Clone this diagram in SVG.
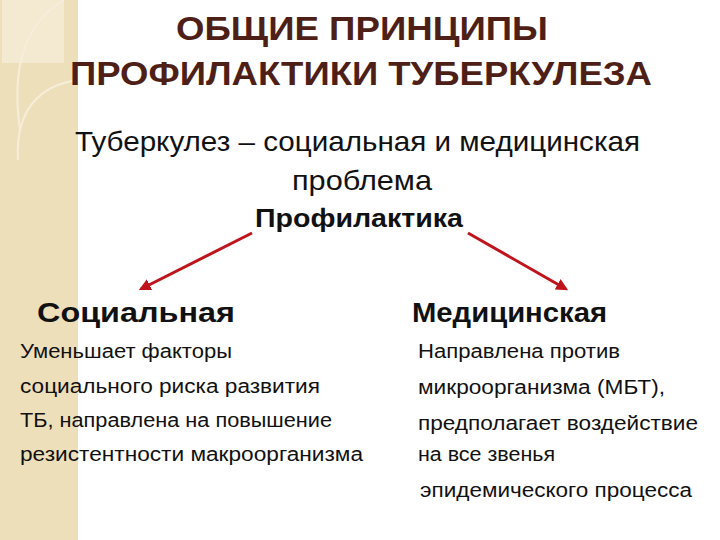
<svg xmlns="http://www.w3.org/2000/svg" width="720" height="540" viewBox="0 0 720 540">
<defs>
<style>
.t{font-family:"Liberation Sans","Open Sans",sans-serif;font-weight:bold;fill:#4e1f17;font-size:34px}
.s{font-family:"Liberation Sans","Open Sans",sans-serif;fill:#111;font-size:28px}
.b{font-family:"Liberation Sans","Open Sans",sans-serif;font-weight:bold;fill:#111}
.p{font-family:"Liberation Sans","Open Sans",sans-serif;fill:#111;font-size:20px}
.arr{stroke:#c0141c;stroke-width:3;fill:none;marker-end:url(#ah)}
</style>
<marker id="ah" viewBox="0 0 10 10" refX="8" refY="5" markerWidth="4" markerHeight="4" orient="auto" markerUnits="strokeWidth">
<path d="M0,0 L10,5 L0,10 z" fill="#c0141c"/>
</marker>
</defs>
<rect width="720" height="540" fill="#fff"/>
<g id="band">
<rect x="0" y="0" width="78" height="540" fill="#eedfbb"/>
<rect x="2" y="0" width="62" height="63" fill="#f4ead2"/>
<path d="M64,0 C30,20 10,60 20,130" stroke="#f6eedb" stroke-width="2" fill="none"/>
<path d="M78,80 C40,85 15,110 18,160" stroke="#f6eedb" stroke-width="2" fill="none"/>
</g>
<g id="title">
<text class="t" x="362" y="40" text-anchor="middle" textLength="372" lengthAdjust="spacingAndGlyphs">ОБЩИЕ ПРИНЦИПЫ</text>
<text class="t" x="361" y="85" text-anchor="middle" textLength="582" lengthAdjust="spacingAndGlyphs">ПРОФИЛАКТИКИ ТУБЕРКУЛЕЗА</text>
</g>
<g id="subtitle">
<text class="s" x="75" y="151" textLength="565" lengthAdjust="spacingAndGlyphs">Туберкулез – социальная и медицинская</text>
<text class="s" x="362" y="190" text-anchor="middle" textLength="140" lengthAdjust="spacingAndGlyphs">проблема</text>
</g>
<g id="node-prof">
<text class="b" x="255" y="227" font-size="25" textLength="208" lengthAdjust="spacingAndGlyphs">Профилактика</text>
</g>
<g id="node-social">
<text class="b" x="37" y="322" font-size="27" textLength="198" lengthAdjust="spacingAndGlyphs">Социальная</text>
<text class="p" x="20" y="358" textLength="212" lengthAdjust="spacingAndGlyphs">Уменьшает факторы</text>
<text class="p" x="20" y="393" textLength="300" lengthAdjust="spacingAndGlyphs">социального риска развития</text>
<text class="p" x="20" y="427" textLength="312" lengthAdjust="spacingAndGlyphs">ТБ, направлена на повышение</text>
<text class="p" x="20" y="461" textLength="343" lengthAdjust="spacingAndGlyphs">резистентности макроорганизма</text>
</g>
<g id="node-medical">
<text class="b" x="412" y="322" font-size="27" textLength="195" lengthAdjust="spacingAndGlyphs">Медицинская</text>
<text class="p" x="418" y="358" textLength="202" lengthAdjust="spacingAndGlyphs">Направлена против</text>
<text class="p" x="418" y="394" textLength="247" lengthAdjust="spacingAndGlyphs">микроорганизма (МБТ),</text>
<text class="p" x="418" y="430" textLength="280" lengthAdjust="spacingAndGlyphs">предполагает воздействие</text>
<text class="p" x="418" y="461" textLength="137" lengthAdjust="spacingAndGlyphs">на все звенья</text>
<text class="p" x="420" y="497" textLength="272" lengthAdjust="spacingAndGlyphs">эпидемического процесса</text>
</g>
<g id="connectors">
<line class="arr" x1="252" y1="233" x2="141" y2="289"/>
<line class="arr" x1="468" y1="233" x2="566" y2="289"/>
</g>
</svg>
